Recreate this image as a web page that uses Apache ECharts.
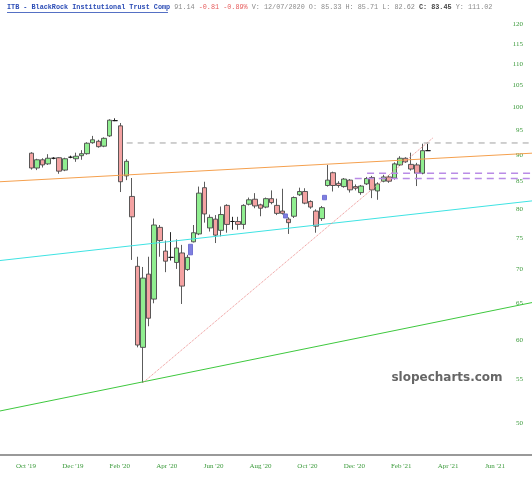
<!DOCTYPE html>
<html><head><meta charset="utf-8">
<script src="https://cdn.jsdelivr.net/npm/echarts@6/dist/echarts.min.js"></script>
<style>html,body{margin:0;padding:0;background:#fff}#c{width:532px;height:480px}</style>
</head><body><div id="c"></div>
<script>
// Weekly candles (index = week position)
const opens  = [90.4,87.5,89.1,88.3,89.4,89.5,87.1,89.6,89.3,89.9,90.3,92.5,92.8,91.8,93.9,97.1,96.0,86.0,82.2,70.5,59.0,69.3,65.6,76.8,72.9,71.9,71.1,72.6,70.0,74.4,75.7,83.8,76.7,78.2,76.3,80.6,77.8,77.8,77.3,80.8,81.7,80.7,80.3,81.8,80.6,79.6,78.2,78.7,82.5,83.1,81.3,79.6,78.3,84.2,86.6,84.6,84.0,85.2,84.0,82.9,84.5,85.7,83.2,85.0,85.8,85.6,88.1,89.4,88.2,88.1,86.5,90.9];
const closes = [87.5,89.1,88.1,89.4,89.4,86.9,89.3,89.6,89.8,90.3,92.4,93.1,91.7,93.4,97.2,97.1,84.9,88.8,78.6,59.3,68.7,62.9,77.2,74.6,71.3,71.9,73.4,67.5,71.9,75.9,82.8,79.1,78.5,75.5,79.0,77.3,77.8,77.3,80.6,81.6,80.5,80.1,81.8,81.1,79.2,79.2,77.6,82.0,83.1,81.0,80.3,77.0,80.2,85.2,84.2,84.2,85.4,83.4,83.7,84.1,85.5,83.4,84.5,85.8,85.0,88.3,89.4,88.7,87.3,86.5,90.9,90.9];
const lows   = [87.2,87.1,87.6,88.1,89.2,86.4,86.9,89.4,88.7,89.1,90.1,92.3,91.5,91.6,93.7,97.0,83.0,85.2,71.5,59.0,54.6,61.8,65.0,72.0,69.6,71.4,70.1,64.9,69.8,74.3,75.5,77.6,76.1,74.2,75.3,75.9,76.4,76.4,76.5,80.6,80.1,78.7,80.1,80.8,78.9,79.0,75.7,78.4,82.3,80.8,80.0,75.9,77.9,84.0,83.1,83.8,83.8,82.9,83.3,82.5,84.3,81.9,81.6,84.8,84.7,85.3,87.9,88.5,87.0,84.1,86.3,90.9];
const highs  = [90.6,89.3,89.4,90.2,89.6,89.6,89.5,89.9,90.5,91.0,92.6,93.9,93.1,93.6,97.4,97.6,96.6,89.2,85.6,72.0,70.4,72.0,78.3,77.2,74.6,76.0,74.8,73.9,72.3,77.2,84.0,84.9,79.0,78.9,80.4,80.8,78.6,78.6,80.8,82.0,82.8,80.9,82.0,83.3,81.8,83.6,78.5,82.2,83.8,83.7,81.5,79.9,80.5,88.1,86.8,85.0,85.6,85.4,84.4,84.3,85.8,86.0,84.8,86.2,86.1,88.6,89.8,89.6,90.5,88.5,92.3,92.3];

// Blue candles
const blueX     = [28.5, 45.5, 52.5];
const blueOpen  = [72.3, 79.1, 81.6];
const blueClose = [74.0, 78.4, 82.4];
const blueLow   = [72.3, 78.4, 81.6];
const blueHigh  = [74.0, 79.1, 82.4];

// Axis ticks
const xTickPos    = [-0.95, 7.445, 15.84, 24.24, 32.63, 41.03, 49.42, 57.82, 66.21, 74.61, 83.0];
const xTickLabels = ["Oct '19","Dec '19","Feb '20","Apr '20","Jun '20","Aug '20","Oct '20","Dec '20","Feb '21","Apr '21","Jun '21"];
const yTicks      = [50,55,60,65,70,75,80,85,90,95,100,105,110,115,120];

// Drawn lines (x in week units, y in price)
const xMin = -5.60, xMax = 89.62;
const orangeLine = [[xMin, 84.9], [xMax, 90.4]];
const cyanLine   = [[xMin, 71.4], [xMax, 81.4]];
const greenLine  = [[xMin, 51.3], [xMax, 65.1]];
const redDotted  = [[20.0, 54.6], [71.9, 93.5]];
const grayDashed = [[17.07, 92.45], [xMax, 92.45]];
const purple1    = [[60.1, 86.5], [xMax, 86.5]];
const purple2    = [[57.9, 85.5], [xMax, 85.5]];

const candleData = opens.map((o, i) => [i, o, closes[i], lows[i], highs[i]]);
const blueData = blueX.map((x, i) => [x, blueOpen[i], blueClose[i], blueLow[i], blueHigh[i]]);

function lineSeries(data, color, type, width) {
  return { type: 'line', data: data, showSymbol: false, silent: true, z: 5,
    lineStyle: { color: color, type: type, width: width }, animation: false };
}

const chart = echarts.init(document.getElementById('c'), null, { renderer: 'canvas' });
const mono = 'Liberation Mono';
chart.setOption({
  animation: false,
  backgroundColor: '#fff',
  grid: { left: 0, right: 0, top: 0, bottom: 25 },
  xAxis: {
    type: 'value', min: xMin, max: xMax,
    axisLine: { show: true, lineStyle: { color: '#999', width: 2 } },
    axisTick: { show: false }, splitLine: { show: false },
    axisLabel: {
      customValues: xTickPos, margin: 8,
      color: '#3a9a3a', fontSize: 7, fontFamily: 'Liberation Serif',
      formatter: function (v) {
        let best = 0;
        for (let k = 0; k < xTickPos.length; k++) if (Math.abs(xTickPos[k] - v) < Math.abs(xTickPos[best] - v)) best = k;
        return xTickLabels[best];
      }
    }
  },
  yAxis: {
    type: 'log', logBase: 10, min: 46.57, max: 126.58, position: 'right',
    axisLine: { show: false }, axisTick: { show: false }, splitLine: { show: false },
    axisLabel: { inside: true, customValues: yTicks, margin: 9,
      color: '#3a9a3a', fontSize: 7, fontFamily: 'Liberation Serif' }
  },
  series: [
    {
      type: 'candlestick', data: candleData, encode: { x: 0, y: [1, 2, 3, 4] },
      barWidth: 5, z: 3,
      itemStyle: { color: '#90ee90', color0: '#f4a2a2', borderColor: '#4a4a4a', borderColor0: '#4a4a4a',
        borderColorDoji: '#111', borderWidth: 0.9 }
    },
    {
      type: 'candlestick', data: blueData, encode: { x: 0, y: [1, 2, 3, 4] },
      barWidth: 5, z: 3,
      itemStyle: { color: '#7f7fe0', color0: '#7f7fe0', borderColor: '#6a6ad0', borderColor0: '#6a6ad0', borderWidth: 0.9 }
    },
    lineSeries(orangeLine, '#f5a04e', 'solid', 1),
    lineSeries(cyanLine, '#3fe3e3', 'solid', 1),
    lineSeries(greenLine, '#3ec83e', 'solid', 1),
    lineSeries(redDotted, '#ec8a8a', 'dotted', 1),
    lineSeries(grayDashed, '#a0a0a0', [6, 5], 1),
    lineSeries(purple1, '#b98be6', [7, 5], 1.5),
    lineSeries(purple2, '#b98be6', [7, 5], 1.5)
  ],
  graphic: [
    { type: 'text', left: 7, top: 4, silent: true,
      style: { text: '{t|ITB - BlackRock Institutional Trust Comp}{g| 91.14 }{r|-0.81 -0.89%}{g| V: 12/07/2020 O: 85.33 H: 85.71 L: 82.62 }{b|C: 83.45}{g| Y: 111.02}',
        rich: {
          t: { fontFamily: mono, fontSize: 6.8, fontWeight: 'bold', fill: '#2a4bb5' },
          g: { fontFamily: mono, fontSize: 6.8, fill: '#8a8a8a' },
          r: { fontFamily: mono, fontSize: 6.8, fill: '#e65c5c' },
          b: { fontFamily: mono, fontSize: 6.8, fontWeight: 'bold', fill: '#444' }
        } } },
    { type: 'line', silent: true, shape: { x1: 7, y1: 12.5, x2: 168, y2: 12.5 }, style: { stroke: '#2a4bb5', lineWidth: 0.8 } },
    { type: 'text', x: 447, y: 378, silent: true,
      style: { text: 'slopecharts.com', fontFamily: 'DejaVu Sans', fontWeight: 'bold', fontSize: 12,
        fill: '#666', align: 'center', verticalAlign: 'middle' } }
  ]
});
</script></body></html>
